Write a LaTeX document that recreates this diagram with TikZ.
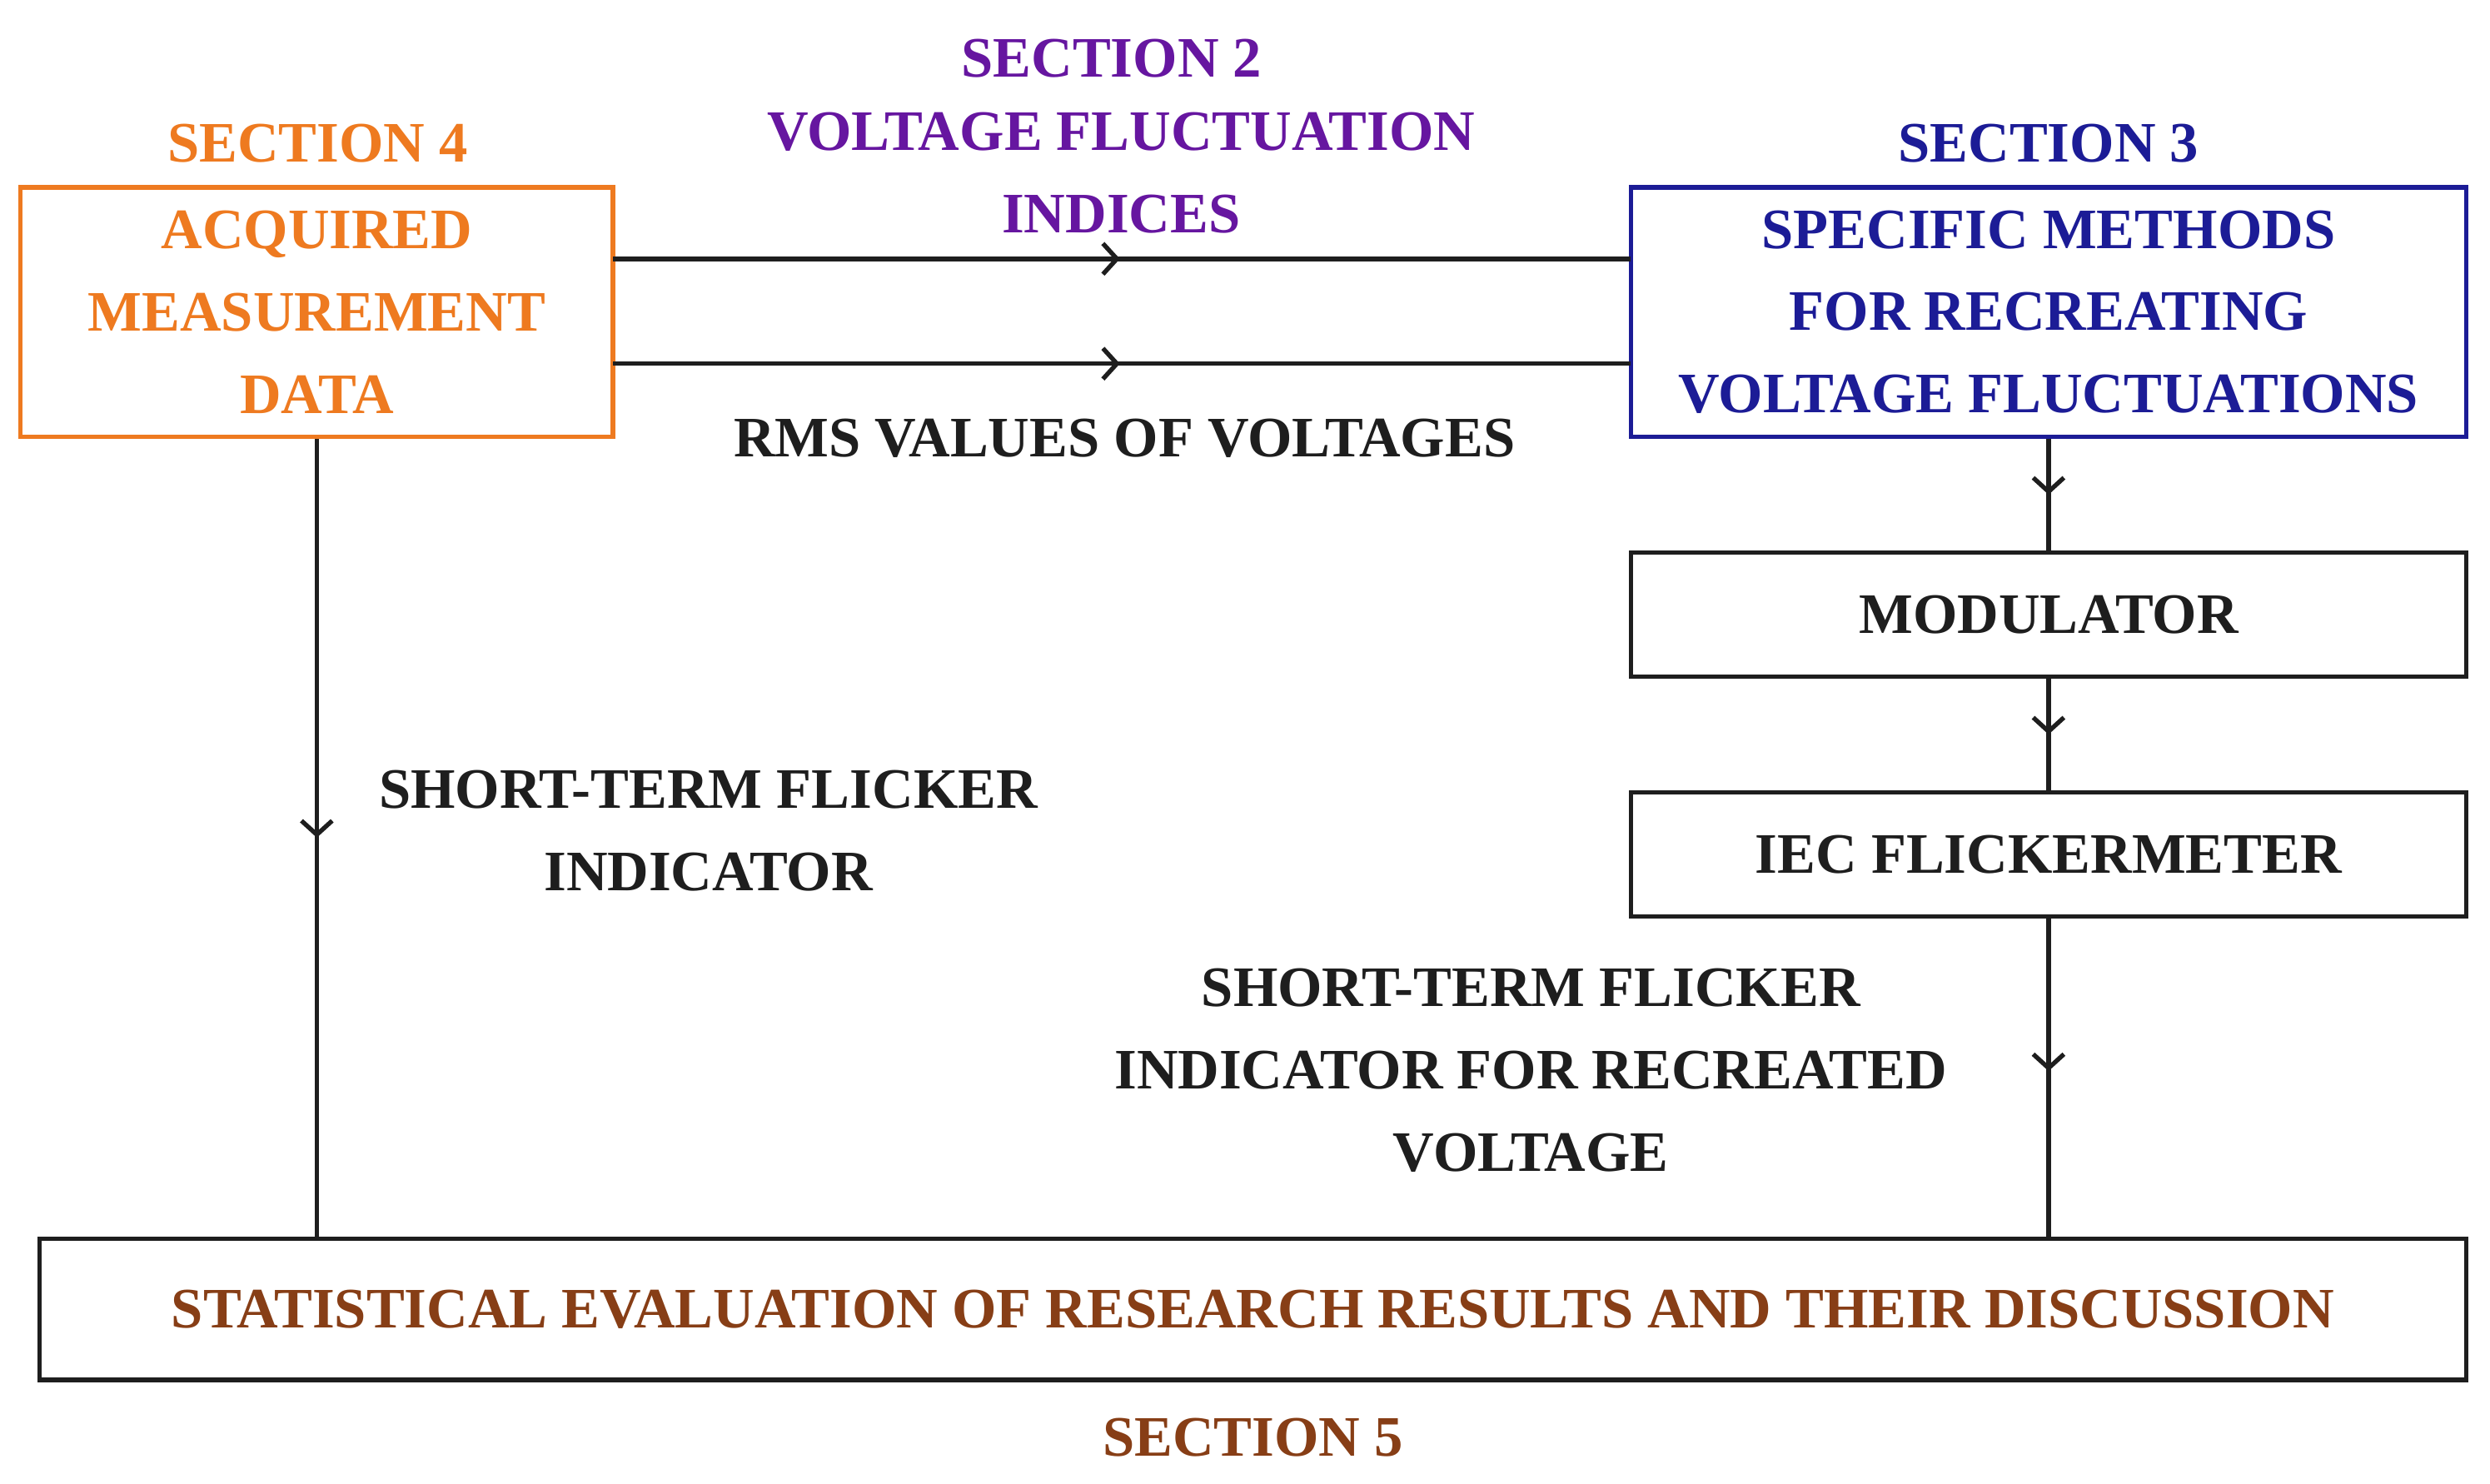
\documentclass[tikz,border=0pt]{standalone}
\usepackage{fontspec}
\setmainfont{Liberation Serif}
\usetikzlibrary{arrows.meta,decorations.markings}
\definecolor{org}{RGB}{238,122,32}
\definecolor{pur}{RGB}{102,22,160}
\definecolor{blu}{RGB}{28,28,150}
\definecolor{brn}{RGB}{135,62,22}
\definecolor{blk}{RGB}{30,30,30}
\begin{document}
\begin{tikzpicture}[x=0.02cm,y=-0.02cm,
  txt/.style={font=\bfseries\fontsize{20.5}{29.5}\selectfont,align=center,inner sep=0},
  box/.style={draw,line width=1.6pt,inner sep=0,font=\bfseries\fontsize{20.5}{29.5}\selectfont,align=center},
  conn/.style={draw=blk,line width=1.6pt,postaction=decorate,
    decoration={markings,mark=at position #1 with {\arrow[blk,line width=1.6pt]{Straight Barb[length=5pt,width=11pt]}}}},
  conn/.default=0.5]
\useasboundingbox (0,0) rectangle (1568,934);
% boxes
\node[box,draw=org,text=org,minimum width=373*0.02cm,minimum height=157*0.02cm] (acq) at (199.5,196.5) {ACQUIRED\\MEASUREMENT\\DATA};
\node[box,draw=blu,text=blu,minimum width=526*0.02cm,minimum height=157*0.02cm] (spec) at (1290,196.5) {SPECIFIC METHODS\\FOR RECREATING\\VOLTAGE FLUCTUATIONS};
\node[box,draw=blk,text=blk,minimum width=526*0.02cm,minimum height=78*0.02cm] (mod) at (1290,387) {MODULATOR};
\node[box,draw=blk,text=blk,minimum width=526*0.02cm,minimum height=78*0.02cm] (iec) at (1290,538) {IEC FLICKERMETER};
\node[box,draw=blk,text=brn,minimum width=1528*0.02cm,minimum height=89*0.02cm] (stat) at (789,824.5) {STATISTICAL EVALUATION OF RESEARCH RESULTS AND THEIR DISCUSSION};
% labels
\node[txt,text=pur] (s2) at (700,37) {SECTION 2};
\node[txt,text=pur] (vfi) at (706,109) {VOLTAGE FLUCTUATION\\INDICES};
\node[txt,text=org] (s4) at (200,90) {SECTION 4};
\node[txt,text=blu] (s3) at (1290,90) {SECTION 3};
\node[txt,text=blk] (rms) at (708,276) {RMS VALUES OF VOLTAGES};
\node[txt,text=blk] (stf) at (446,523) {SHORT-TERM FLICKER\\INDICATOR};
\node[txt,text=blk] (stfr) at (964,674) {SHORT-TERM FLICKER\\INDICATOR FOR RECREATED\\VOLTAGE};
\node[txt,text=brn] (s5) at (789,905) {SECTION 5};
% connectors
\coordinate (a1) at (386,163); \coordinate (b1) at (1027,163);
\coordinate (a2) at (386,229); \coordinate (b2) at (1027,229);
\draw[conn=0.498] (a1) -- (b1);
\draw[conn=0.498] (a2) -- (b2);
\draw[conn=0.5] (acq.south) -- (acq.south |- stat.north);
\draw[conn=0.5] (spec.south) -- (mod.north);
\draw[conn=0.5] (mod.south) -- (iec.north);
\draw[conn=0.48] (iec.south) -- (iec.south |- stat.north);
\end{tikzpicture}
\end{document}
